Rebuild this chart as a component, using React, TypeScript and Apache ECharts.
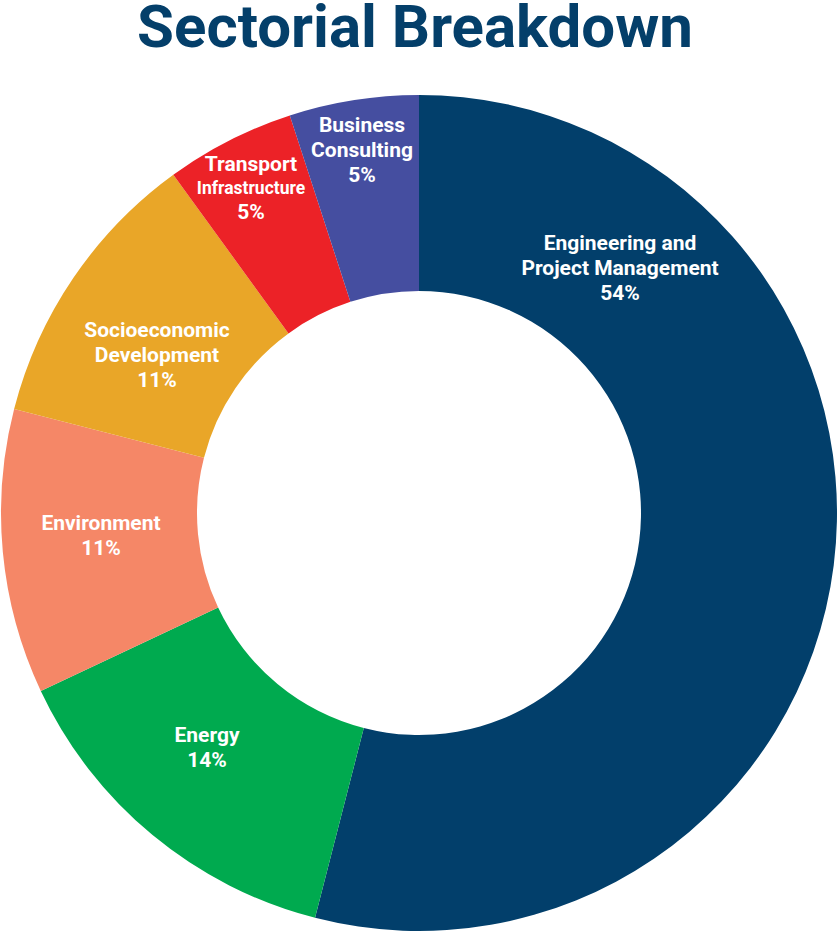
import React, { useEffect, useRef } from "react";
import * as echarts from "echarts";

const titleText = "Sectorial Breakdown";
const sectors = [
  "Engineering and Project Management",
  "Energy",
  "Environment",
  "Socioeconomic Development",
  "Transport Infrastructure",
  "Business Consulting",
];
const shares = [54, 14, 11, 11, 5, 5];
const labelLines = [
  ["Engineering and", "Project Management"],
  ["Energy"],
  ["Environment"],
  ["Socioeconomic", "Development"],
  ["Transport", "Infrastructure"],
  ["Business", "Consulting"],
];
const colors = ["#023f6b", "#00aa4f", "#f58767", "#e9a628", "#ec2227", "#454ea0"];
// label centres (pixel placement of the text blocks)
const labelPos = [
  [620, 268],
  [207, 747],
  [101, 535],
  [157, 355],
  [251, 188],
  [362, 150],
];

export default function App() {
  const ref = useRef<HTMLDivElement>(null);
  useEffect(() => {
    if (!ref.current) return;
    const chart = echarts.init(ref.current, undefined, { renderer: "svg" });
    const font = "Roboto, 'DejaVu Sans', sans-serif";
    chart.setOption({
      animation: false,
      backgroundColor: "#ffffff",
      title: {
        text: titleText,
        left: 415,
        top: 3,
        padding: 0,
        textAlign: "center",
        textStyle: {
          fontFamily: font,
          fontWeight: "bold",
          fontSize: 60,
          lineHeight: 46,
          color: "#043f6a",
        },
      },
      series: [
        {
          type: "pie",
          center: [419, 513],
          radius: [222, 418],
          startAngle: 90,
          clockwise: true,
          silent: true,
          label: {
            show: true,
            position: "inside",
            color: "#ffffff",
            fontFamily: font,
            fontWeight: "bold",
            fontSize: 21,
            lineHeight: 25,
            align: "center",
            formatter: (p: any) => {
              const lines = labelLines[p.dataIndex];
              if (p.dataIndex === 4) {
                return `{a|${lines[0]}}\n{b|${lines[1]}}\n{a|${p.value}%}`;
              }
              return [...lines, `${p.value}%`].map((l) => `{a|${l}}`).join("\n");
            },
            rich: {
              a: {
                color: "#ffffff",
                fontFamily: font,
                fontWeight: "bold",
                fontSize: 21,
                lineHeight: 25,
                align: "center",
              },
              b: {
                color: "#ffffff",
                fontFamily: font,
                fontWeight: "bold",
                fontSize: 17.5,
                lineHeight: 23,
                align: "center",
              },
            },
          },
          labelLine: { show: false },
          labelLayout: (params: any) => {
            const pos = labelPos[params.dataIndex];
            return {
              x: pos[0],
              y: pos[1],
              align: "center",
              verticalAlign: "middle",
            };
          },
          data: sectors.map((name, i) => ({
            name,
            value: shares[i],
            itemStyle: { color: colors[i] },
          })),
        },
      ],
    });
    return () => chart.dispose();
  }, []);
  return (
    <div
      ref={ref}
      style={{ position: "fixed", left: 0, top: 0, width: 840, height: 941 }}
    />
  );
}
